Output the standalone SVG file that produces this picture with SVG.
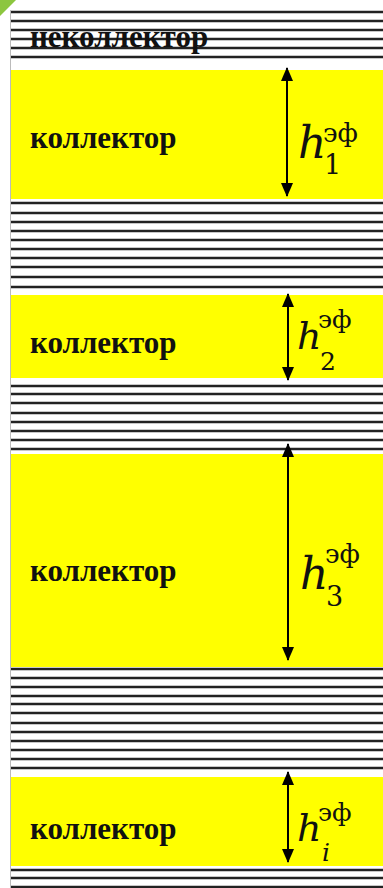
<svg xmlns="http://www.w3.org/2000/svg" width="383" height="888" viewBox="0 0 383 888">
<defs>
<style>
.band{fill:#ffff00}
.hl{stroke:#222;stroke-width:2.4}
.lbl{font-family:"Liberation Serif",serif;font-weight:bold;font-size:31px;fill:#111}
.h{font-family:"DejaVu Serif",serif;font-style:italic;fill:#111}
.s{font-family:"DejaVu Serif",serif;fill:#111}
.arr{stroke:#000;stroke-width:2;fill:none}
</style>
<marker id="ah" viewBox="0 0 14 12" refX="13" refY="6" markerWidth="7" markerHeight="6" orient="auto-start-reverse" markerUnits="strokeWidth">
<path d="M0,0 L14,6 L0,12 z" fill="#000"/>
</marker>
</defs>
<rect width="383" height="888" fill="#fff"/>
<polygon points="0,0 16,0 0,16" fill="#8cc63f"/>
<line x1="10.5" y1="10" x2="10.5" y2="888" stroke="#bbb" stroke-width="1"/>

<g id="hatch">
<g class="hl">
<line x1="11" y1="12" x2="383" y2="12"/>
<line x1="11" y1="21" x2="383" y2="21"/>
<line x1="11" y1="30" x2="383" y2="30"/>
<line x1="11" y1="39" x2="383" y2="39"/>
<line x1="11" y1="48" x2="383" y2="48"/>
<line x1="11" y1="57" x2="383" y2="57"/>

<line x1="11" y1="203" x2="383" y2="203"/>
<line x1="11" y1="213" x2="383" y2="213"/>
<line x1="11" y1="222" x2="383" y2="222"/>
<line x1="11" y1="231" x2="383" y2="231"/>
<line x1="11" y1="240" x2="383" y2="240"/>
<line x1="11" y1="249" x2="383" y2="249"/>
<line x1="11" y1="258" x2="383" y2="258"/>
<line x1="11" y1="267" x2="383" y2="267"/>
<line x1="11" y1="277" x2="383" y2="277"/>
<line x1="11" y1="287" x2="383" y2="287"/>

<line x1="11" y1="386" x2="383" y2="386"/>
<line x1="11" y1="394" x2="383" y2="394"/>
<line x1="11" y1="403" x2="383" y2="403"/>
<line x1="11" y1="413" x2="383" y2="413"/>
<line x1="11" y1="422" x2="383" y2="422"/>
<line x1="11" y1="431" x2="383" y2="431"/>
<line x1="11" y1="440" x2="383" y2="440"/>
<line x1="11" y1="449" x2="383" y2="449"/>

<line x1="11" y1="669" x2="383" y2="669"/>
<line x1="11" y1="678" x2="383" y2="678"/>
<line x1="11" y1="687" x2="383" y2="687"/>
<line x1="11" y1="696" x2="383" y2="696"/>
<line x1="11" y1="704" x2="383" y2="704"/>
<line x1="11" y1="713" x2="383" y2="713"/>
<line x1="11" y1="723" x2="383" y2="723"/>
<line x1="11" y1="732" x2="383" y2="732"/>
<line x1="11" y1="741" x2="383" y2="741"/>
<line x1="11" y1="750" x2="383" y2="750"/>
<line x1="11" y1="759" x2="383" y2="759"/>
<line x1="11" y1="768" x2="383" y2="768"/>

<line x1="11" y1="870" x2="383" y2="870"/>
<line x1="11" y1="878" x2="383" y2="878"/>
<line x1="11" y1="887" x2="383" y2="887"/>
</g>
<text class="lbl" x="30" y="47" font-size="33">неколлектор</text>
</g>

<g id="collector1">
<rect class="band" x="11" y="70" width="372" height="129"/>
<text class="lbl" x="30" y="148">коллектор</text>
</g>
<g id="collector2">
<rect class="band" x="11" y="295" width="372" height="83"/>
<text class="lbl" x="30" y="353">коллектор</text>
</g>
<g id="collector3">
<rect class="band" x="11" y="454" width="372" height="213"/>
<text class="lbl" x="30" y="581">коллектор</text>
</g>
<g id="collector4">
<rect class="band" x="11" y="777" width="372" height="89"/>
<text class="lbl" x="30" y="839">коллектор</text>
</g>

<g id="connectors">
<line class="arr" x1="287" y1="68" x2="287" y2="196" marker-start="url(#ah)" marker-end="url(#ah)"/>
<line class="arr" x1="288" y1="294" x2="288" y2="380" marker-start="url(#ah)" marker-end="url(#ah)"/>
<line class="arr" x1="288" y1="444" x2="288" y2="660" marker-start="url(#ah)" marker-end="url(#ah)"/>
<line class="arr" x1="288" y1="772" x2="288" y2="862" marker-start="url(#ah)" marker-end="url(#ah)"/>
</g>

<g id="label1">
<text class="h" x="298" y="158" font-size="44">h</text>
<text class="s" x="323" y="142" font-size="26">эф</text>
<text class="s" x="324" y="174" font-size="27">1</text>
</g>
<g id="label2">
<text class="h" x="297" y="349" font-size="38">h</text>
<text class="s" x="318" y="328" font-size="25">эф</text>
<text class="s" x="320" y="370" font-size="25">2</text>
</g>
<g id="label3">
<text class="h" x="300" y="589" font-size="44">h</text>
<text class="s" x="325" y="563" font-size="26">эф</text>
<text class="s" x="326" y="606" font-size="27">3</text>
</g>
<g id="label4">
<text class="h" x="297" y="841" font-size="38">h</text>
<text class="s" x="318" y="821" font-size="25">эф</text>
<text class="h" x="322" y="861" font-size="25">i</text>
</g>
</svg>
